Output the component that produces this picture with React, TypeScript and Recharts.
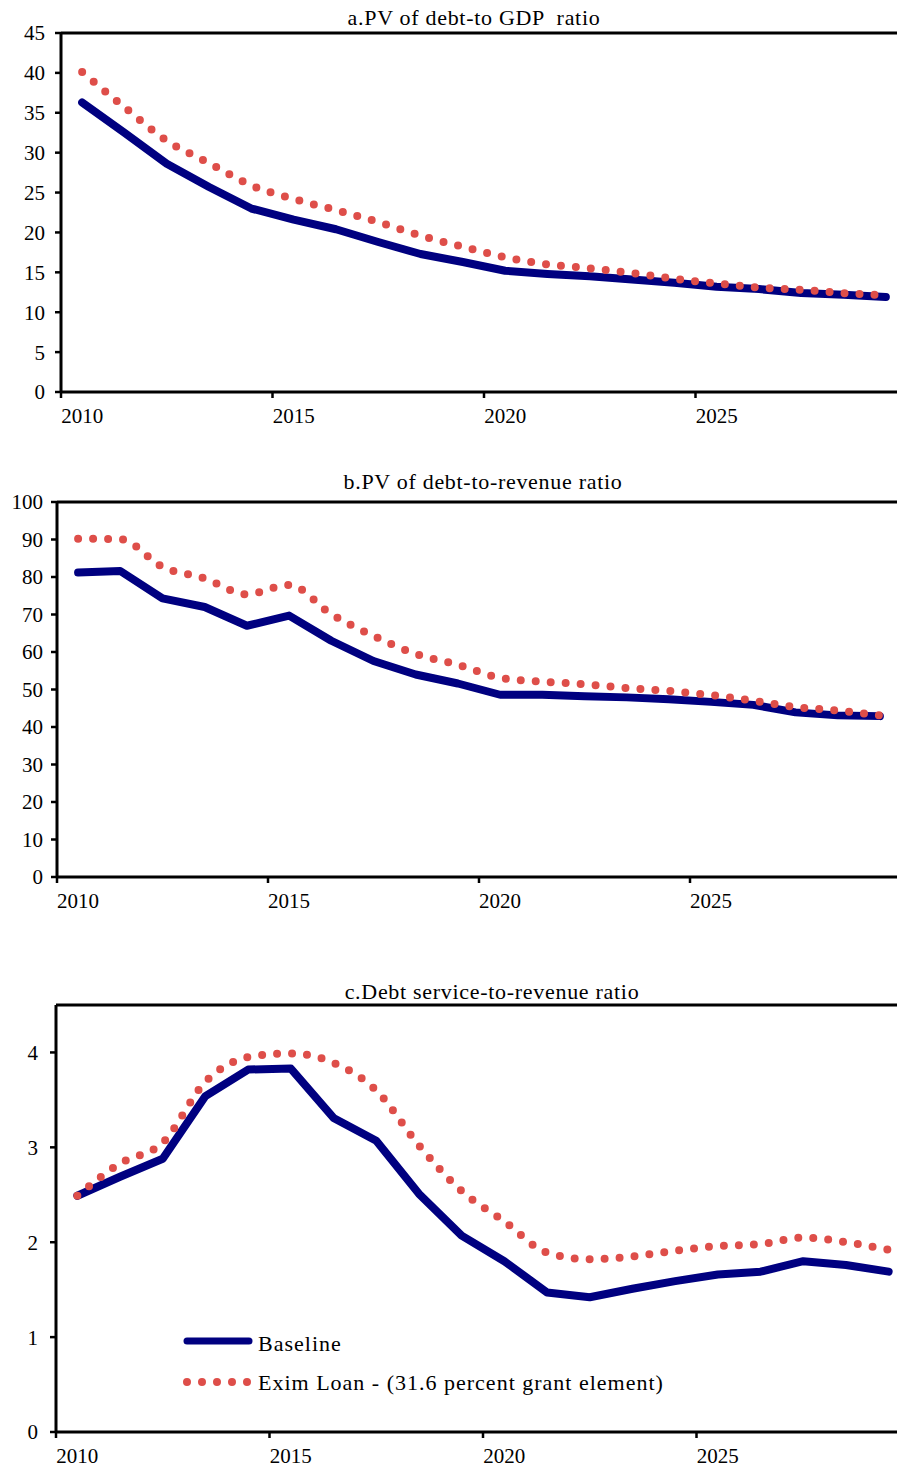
import React from "react";
import { Legend, Line, LineChart, ReferenceLine, XAxis, YAxis } from "recharts";

const FONT = '"Liberation Serif", "Times New Roman", serif';
const NAVY = "#000080";
const RED = "#DE4E49";

const years = [
  2010, 2011, 2012, 2013, 2014, 2015, 2016, 2017, 2018, 2019,
  2020, 2021, 2022, 2023, 2024, 2025, 2026, 2027, 2028, 2029,
];
// ticks sit on category boundaries, labels are centred on the category
const yearTicks = [2009.5, 2014.5, 2019.5, 2024.5];

// a. PV of debt-to-GDP ratio
const gdpBaseline = [36.3, 32.5, 28.6, 25.7, 23.0, 21.6, 20.4, 18.8, 17.3, 16.3, 15.2, 14.8, 14.5, 14.1, 13.7, 13.2, 12.9, 12.4, 12.2, 11.9];
const gdpExim = [40.1, 35.7, 31.5, 28.7, 25.9, 24.2, 22.8, 21.3, 19.6, 18.2, 16.9, 16.0, 15.5, 14.9, 14.2, 13.6, 13.1, 12.8, 12.4, 12.1];
const gdpTicks = [0, 5, 10, 15, 20, 25, 30, 35, 40, 45];

// b. PV of debt-to-revenue ratio
const revBaseline = [81.2, 81.6, 74.3, 72.0, 67.0, 69.7, 63.0, 57.6, 54.0, 51.6, 48.6, 48.6, 48.2, 47.9, 47.4, 46.7, 45.9, 43.9, 43.1, 42.9];
const revExim = [90.2, 90.1, 82.7, 79.6, 75.4, 77.9, 70.1, 64.3, 59.5, 56.6, 53.1, 52.1, 51.4, 50.4, 49.6, 48.5, 47.0, 45.3, 44.4, 43.1];
const revTicks = [0, 10, 20, 30, 40, 50, 60, 70, 80, 90, 100];

// c. Debt service-to-revenue ratio
const dsBaseline = [2.49, 2.69, 2.88, 3.54, 3.82, 3.83, 3.31, 3.07, 2.51, 2.07, 1.8, 1.47, 1.42, 1.51, 1.59, 1.66, 1.69, 1.8, 1.76, 1.69];
const dsExim = [2.49, 2.83, 3.05, 3.69, 3.95, 3.99, 3.89, 3.6, 3.02, 2.54, 2.22, 1.89, 1.82, 1.85, 1.91, 1.96, 1.98, 2.05, 2.0, 1.92];
const dsTicks = [0, 1, 2, 3, 4];

const seriesNames = ["Baseline", "Exim Loan - (31.6 percent grant element)"];

const CHART_W = 920;

type PanelProps = {
  top: number;
  height: number;
  axisLeft: number;
  plotTop: number;
  marginRight: number;
  marginBottom: number;
  yMax: number;
  yTicks: number[];
  yTickMargin: number;
  baseline: number[];
  exim: number[];
  withLegend?: boolean;
};

function YearTick(props: any) {
  const { x, y, payload, half } = props;
  return (
    <text
      x={x + half}
      y={y}
      dy="0.71em"
      textAnchor="middle"
      fill="#000"
      fontSize={21}
      fontFamily={FONT}
    >
      {Math.round(payload.value + 0.5)}
    </text>
  );
}

function LegendBox({ payload }: any) {
  const items = payload ?? [];
  return (
    <svg width={520} height={75} style={{ display: "block" }}>
      {items.map((entry: any, i: number) => {
        const dotted = entry.dataKey === "exim";
        const cy = i === 0 ? 16 : 57;
        return (
          <g key={String(entry.dataKey)}>
            <line
              x1={7}
              x2={dotted ? 68 : 69}
              y1={cy}
              y2={cy}
              stroke={entry.color}
              strokeWidth={dotted ? 8 : 7}
              strokeLinecap="round"
              strokeDasharray={dotted ? "0 15" : undefined}
            />
            <text
              x={78}
              y={dotted ? cy + 8 : cy + 10}
              fill="#000"
              fontSize={22}
              fontFamily={FONT}
              letterSpacing={1}
            >
              {entry.value}
            </text>
          </g>
        );
      })}
    </svg>
  );
}

function Panel(p: PanelProps) {
  const data = years.map((year, i) => ({
    year,
    baseline: p.baseline[i],
    exim: p.exim[i],
  }));
  const half = (CHART_W - p.marginRight - p.axisLeft) / years.length / 2;
  const axisStyle = { stroke: "#000", strokeWidth: 3 };
  const tickStyle = { stroke: "#000", strokeWidth: 2.5 };

  return (
    <div style={{ position: "absolute", left: 0, top: p.top }}>
      <LineChart
        width={CHART_W}
        height={p.height}
        data={data}
        margin={{ top: p.plotTop, right: p.marginRight, bottom: p.marginBottom, left: 0 }}
      >
        <XAxis
          dataKey="year"
          type="number"
          domain={[2009.5, 2029.5]}
          ticks={yearTicks}
          interval={0}
          allowDataOverflow
          height={30}
          tickSize={6}
          tickMargin={10}
          axisLine={axisStyle}
          tickLine={tickStyle}
          tick={(t: any) => <YearTick {...t} half={half} />}
        />
        <YAxis
          domain={[0, p.yMax]}
          ticks={p.yTicks}
          interval={0}
          width={p.axisLeft}
          tickSize={6}
          tickMargin={p.yTickMargin}
          axisLine={axisStyle}
          tickLine={tickStyle}
          tick={{ fill: "#000", fontSize: 21, fontFamily: FONT }}
        />
        <ReferenceLine y={p.yMax} stroke="#000" strokeWidth={3} />
        <Line
          dataKey="baseline"
          name={seriesNames[0]}
          type="linear"
          stroke={NAVY}
          strokeWidth={8}
          strokeLinecap="round"
          strokeLinejoin="round"
          dot={false}
          activeDot={false}
          isAnimationActive={false}
        />
        <Line
          dataKey="exim"
          name={seriesNames[1]}
          type="monotone"
          stroke={RED}
          strokeWidth={8}
          strokeDasharray="0 15"
          strokeLinecap="round"
          dot={false}
          activeDot={false}
          isAnimationActive={false}
        />
        {p.withLegend && (
          <Legend
            layout="horizontal"
            verticalAlign="middle"
            align="center"
            wrapperStyle={{ left: 180, top: 405, width: 520, height: 75 }}
            content={<LegendBox />}
          />
        )}
      </LineChart>
    </div>
  );
}

const titles = [
  { text: "a.PV of debt-to GDP  ratio", x: 474, y: 25 },
  { text: "b.PV of debt-to-revenue ratio", x: 483, y: 489 },
  { text: "c.Debt service-to-revenue ratio", x: 492, y: 999 },
];

export default function App() {
  return (
    <div
      style={{
        position: "absolute",
        left: 0,
        top: 0,
        width: 897,
        height: 1469,
        overflow: "hidden",
        background: "#fff",
      }}
    >
      <Panel
        top={0}
        height={440}
        axisLeft={61}
        plotTop={33}
        marginRight={13}
        marginBottom={18}
        yMax={45}
        yTicks={gdpTicks}
        yTickMargin={10}
        baseline={gdpBaseline}
        exim={gdpExim}
      />
      <Panel
        top={440}
        height={480}
        axisLeft={57}
        plotTop={62}
        marginRight={19}
        marginBottom={13}
        yMax={100}
        yTicks={revTicks}
        yTickMargin={8}
        baseline={revBaseline}
        exim={revExim}
      />
      <Panel
        top={920}
        height={549}
        axisLeft={56}
        plotTop={85}
        marginRight={10}
        marginBottom={7}
        yMax={4.5}
        yTicks={dsTicks}
        yTickMargin={12}
        baseline={dsBaseline}
        exim={dsExim}
        withLegend
      />
      <svg
        width={897}
        height={1469}
        style={{ position: "absolute", left: 0, top: 0, pointerEvents: "none" }}
      >
        {titles.map((t) => (
          <text
            key={t.text}
            x={t.x}
            y={t.y}
            textAnchor="middle"
            fill="#000"
            fontSize={22}
            fontFamily={FONT}
            letterSpacing={0.7}
            style={{ whiteSpace: "pre" }}
          >
            {t.text}
          </text>
        ))}
      </svg>
    </div>
  );
}
